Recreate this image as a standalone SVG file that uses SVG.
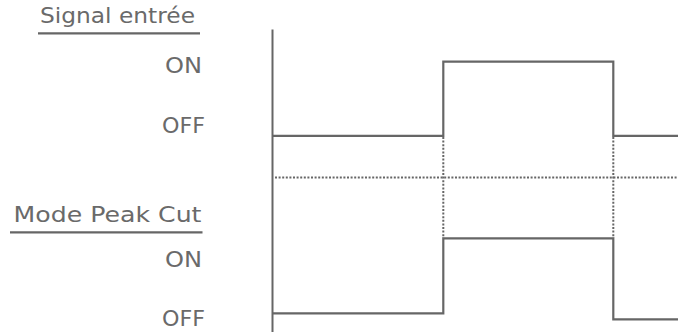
<svg xmlns="http://www.w3.org/2000/svg" width="678" height="332" viewBox="0 0 678 332">
  <style>
    .lbl { font-family: "DejaVu Sans", "Liberation Sans", sans-serif; font-size: 21.5px; font-weight: 400; fill: #6a6a6a; }
    .ul { stroke: #666; stroke-width: 2.2; fill: none; }
    .sig { stroke: #666; stroke-width: 2.2; fill: none; }
    .axis { stroke: #666; stroke-width: 2; fill: none; }
    .dot { stroke: #666; stroke-width: 2; fill: none; stroke-dasharray: 2 1.6; }
  </style>
  <rect width="678" height="332" fill="#ffffff"/>

  <g id="label-signal">
    <text class="lbl" x="40" y="22.7" textLength="155" lengthAdjust="spacingAndGlyphs">Signal entrée</text>
    <line class="ul" x1="38" y1="33.3" x2="200" y2="33.3"/>
  </g>
  <g id="label-signal-on">
    <text class="lbl" x="165" y="73.3" textLength="37" lengthAdjust="spacingAndGlyphs">ON</text>
  </g>
  <g id="label-signal-off">
    <text class="lbl" x="162" y="133.3" textLength="43" lengthAdjust="spacingAndGlyphs">OFF</text>
  </g>

  <g id="label-mode">
    <text class="lbl" x="13.5" y="222.3" textLength="188" lengthAdjust="spacingAndGlyphs">Mode Peak Cut</text>
    <line class="ul" x1="10" y1="232.3" x2="202.5" y2="232.3"/>
  </g>
  <g id="label-mode-on">
    <text class="lbl" x="165" y="266.7" textLength="37" lengthAdjust="spacingAndGlyphs">ON</text>
  </g>
  <g id="label-mode-off">
    <text class="lbl" x="162" y="325.7" textLength="43" lengthAdjust="spacingAndGlyphs">OFF</text>
  </g>

  <g id="connectors">
    <line class="axis" x1="272.5" y1="29.5" x2="272.5" y2="332"/>
    <line class="dot" x1="275" y1="177.5" x2="678" y2="177.5"/>
    <line class="dot" x1="443.3" y1="137" x2="443.3" y2="238"/>
    <line class="dot" x1="613.3" y1="137" x2="613.3" y2="238"/>
    <polyline class="sig" points="273,135.8 443.3,135.8 443.3,61.7 613.3,61.7 613.3,135.8 678,135.8"/>
    <polyline class="sig" points="273,313.3 443.3,313.3 443.3,238.3 613.3,238.3 613.3,319.3 678,319.3"/>
  </g>
</svg>
